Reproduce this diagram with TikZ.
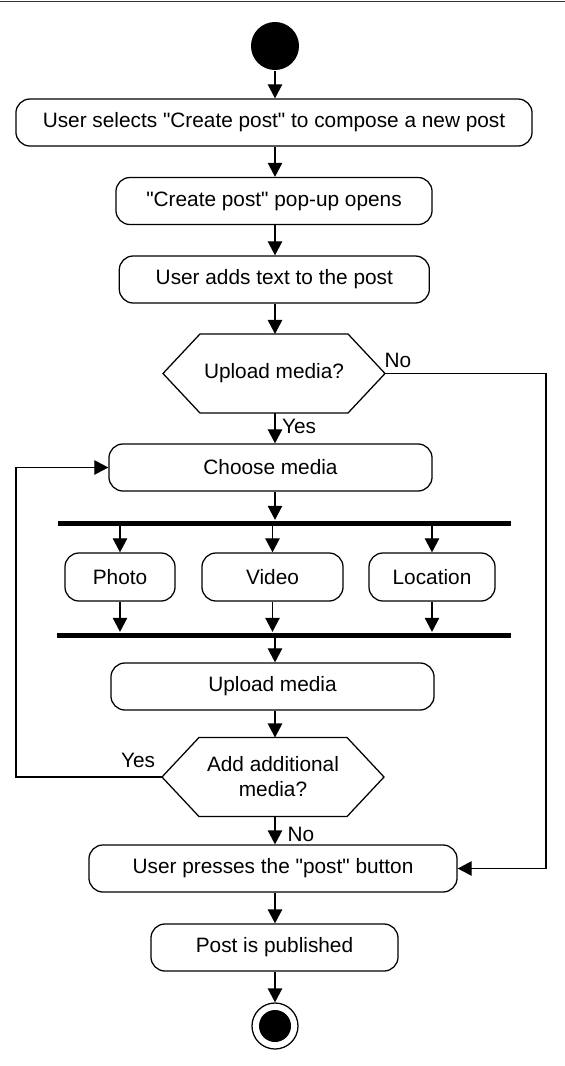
\documentclass[tikz,border=0pt]{standalone}
\usepackage{fontspec}
\setmainfont{Liberation Sans}
\usetikzlibrary{arrows.meta}

\tikzset{
    act/.style={draw, rounded corners=0.35cm, minimum height=1.175cm, inner sep=0pt},
    quest/.style={inner sep=0pt, outer sep=0pt, minimum width=5.55cm, minimum height=1.975cm, align=center},
    bar/.style={fill=black, inner sep=0pt, minimum height=0.125cm},
    arr/.style={-{Triangle[length=0.35cm, width=0.36cm]}},
}

\begin{document}
\begin{tikzpicture}[x=0.025cm, y=-0.025cm, line width=0.9pt, font=\fontsize{14.8}{17.8}\selectfont]
        \useasboundingbox (0, 0) rectangle (565, 1066);
        \draw[line width=0.7pt, black!80] (0, 1) -- (565, 1);

        \node[circle, fill=black, minimum size=1.2cm, inner sep=0pt] (start) at (275, 46) {};
        \node[act, minimum width=12.9cm] (sel) at (274, 122.5) {User selects \textquotedbl Create post\textquotedbl{} to compose a new post};
        \node[act, minimum width=7.9cm] (pop) at (274, 201) {\textquotedbl Create post\textquotedbl{} pop-up opens};
        \node[act, minimum width=7.75cm] (txt) at (274.3, 279.5) {User adds text to the post};
        \node[quest] (q1) at (274, 373.5) {Upload media?};
        \node[act, minimum width=8.075cm] (choose) at (270.5, 467.5) {Choose media};
        \node[bar, minimum width=11.325cm] (fork) at (284.5, 523) {};
        \node[act, minimum width=2.75cm, minimum height=1.2cm] (photo) at (120, 577) {Photo};
        \node[act, minimum width=3.525cm, minimum height=1.2cm] (video) at (272.5, 577) {Video};
        \node[act, minimum width=3.15cm, minimum height=1.2cm] (loc) at (432, 577) {Location};
        \node[bar, minimum width=11.35cm] (join) at (284, 635) {};
        \node[act, minimum width=8.075cm] (upload) at (272.5, 686.5) {Upload media};
        \node[quest] (q2) at (273, 777) {Add additional\\media?};
        \node[act, minimum width=9.2cm] (press) at (273, 868.5) {User presses the \textquotedbl post\textquotedbl{} button};
        \node[act, minimum width=6.175cm] (pub) at (274.5, 947.5) {Post is published};
        \node[circle, draw, minimum size=1.15cm, inner sep=0pt] (stop) at (275, 1026) {};
        \fill (stop) circle (0.4cm);

        % the two decisions
        \foreach \q in {q1, q2} {
            \draw (\q.west) -- ([xshift=0.925cm]\q.north west) -- ([xshift=-0.925cm]\q.north east)
                -- (\q.east) -- ([xshift=-0.925cm]\q.south east) -- ([xshift=0.925cm]\q.south west) -- cycle;
        }

        \draw[arr] (start) -- (sel.north -| start);
        \draw[arr] (sel.south -| start) -- (pop.north -| start);
        \draw[arr] (pop.south -| start) -- (txt.north -| start);
        \draw[arr] (txt.south -| start) -- (q1.north -| start);
        \draw[arr] (q1.south -| start) -- (choose.north -| start);
        \draw[arr] (choose.south -| start) -- (fork.north -| start);
        \draw[arr] (fork.south -| photo) -- (photo.north);
        \draw[arr] (fork.south -| video) -- (video.north);
        \draw[arr] (fork.south -| loc) -- (loc.north);
        \draw[arr] (photo.south) -- (join.north -| photo);
        \draw[arr] (video.south) -- (join.north -| video);
        \draw[arr] (loc.south) -- (join.north -| loc);
        \draw[arr] (join.south -| start) -- (upload.north -| start);
        \draw[arr] (upload.south -| start) -- (q2.north -| start);
        \draw[arr] (q2.south -| start) -- (press.north -| start);
        \draw[arr] (press.south -| start) -- (pub.north -| start);
        \draw[arr] (pub.south -| start) -- (stop.north);

        % loop back and skip
        \coordinate (lft) at (16, 0);
        \coordinate (rgt) at (546, 0);
        \draw[arr] (q2.west) -- (q2.west -| lft) |- (choose.west);
        \draw[arr] (q1.east) -- (q1.east -| rgt) |- (press.east);

        \node (no1) at (398, 360) {No};
        \node (yes1) at (299, 426) {Yes};
        \node (yes2) at (138, 760) {Yes};
        \node (no2) at (301, 834) {No};
    \end{tikzpicture}
\end{document}
